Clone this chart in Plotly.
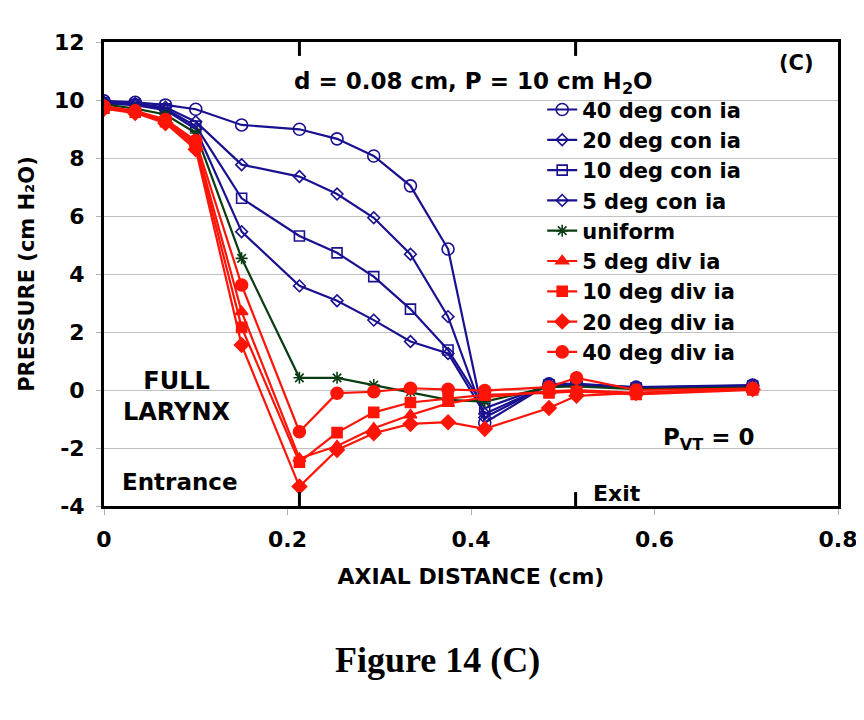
import plotly.graph_objects as go

# ---- data ----
axial_cm = [0, 0.034, 0.067, 0.1, 0.15, 0.213, 0.254, 0.294, 0.334, 0.375, 0.415, 0.485, 0.515, 0.58, 0.707]

con40 = [9.97, 9.92, 9.83, 9.68, 9.14, 8.99, 8.66, 8.07, 7.04, 4.86, -1.13, 0.21, 0.21, 0.10, 0.17]
con20 = [9.92, 9.88, 9.75, 9.25, 7.77, 7.36, 6.76, 5.94, 4.68, 2.53, -0.95, 0.20, 0.20, 0.08, 0.15]
con10 = [9.90, 9.85, 9.70, 9.10, 6.61, 5.31, 4.73, 3.91, 2.79, 1.38, -0.63, 0.18, 0.18, 0.07, 0.14]
con5 = [9.88, 9.82, 9.65, 9.00, 5.46, 3.59, 3.08, 2.41, 1.67, 1.26, -0.82, 0.18, 0.18, 0.06, 0.13]
uniform = [9.85, 9.70, 9.50, 8.86, 4.54, 0.42, 0.42, 0.17, -0.06, -0.34, -0.40, 0.10, 0.12, 0.03, 0.08]
div5 = [9.75, 9.60, 9.30, 8.50, 2.70, -2.36, -1.93, -1.32, -0.86, -0.46, -0.25, -0.05, 0.00, -0.10, 0.02]
div10 = [9.72, 9.58, 9.25, 8.40, 2.16, -2.49, -1.47, -0.77, -0.43, -0.30, -0.17, -0.10, -0.05, -0.15, 0.00]
div20 = [9.70, 9.55, 9.20, 8.30, 1.55, -3.33, -2.07, -1.49, -1.17, -1.11, -1.34, -0.62, -0.20, -0.10, 0.03]
div40 = [9.78, 9.63, 9.33, 8.60, 3.62, -1.44, -0.11, -0.06, 0.06, 0.02, -0.02, 0.10, 0.42, 0.00, 0.05]

series_names = ["40 deg con ia", "20 deg con ia", "10 deg con ia", "5 deg con ia", "uniform",
                "5 deg div ia", "10 deg div ia", "20 deg div ia", "40 deg div ia"]
series_values = [con40, con20, con10, con5, uniform, div5, div10, div20, div40]

y_tickvals = [-4, -2, 0, 2, 4, 6, 8, 10, 12]
y_ticktext = ["-4", "-2", "0", "2", "4", "6", "8", "10", "12"]
x_tickvals = [0, 0.2, 0.4, 0.6, 0.8]
x_ticktext = ["0", "0.2", "0.4", "0.6", "0.8"]

entrance_x = 0.213
exit_x = 0.514

# ---- styles ----
NAVY = "#1a1190"
GREEN = "#0b3d12"
RED = "#ff1408"
styles = [
    dict(color=NAVY, symbol="circle-open", size=12),
    dict(color=NAVY, symbol="diamond-open", size=9),
    dict(color=NAVY, symbol="square-open", size=10),
    dict(color=NAVY, symbol="diamond-open", size=9),
    dict(color=GREEN, symbol="asterisk-open", size=10),
    dict(color=RED, symbol="triangle-up", size=11),
    dict(color=RED, symbol="square", size=10),
    dict(color=RED, symbol="diamond", size=11),
    dict(color=RED, symbol="circle", size=12),
]

FONT = "DejaVu Sans"

fig = go.Figure()
for name, vals, st in zip(series_names, series_values, styles):
    fig.add_trace(go.Scatter(
        x=axial_cm, y=vals, name=name, mode="lines+markers",
        line=dict(color=st["color"], width=2.2),
        marker=dict(symbol=st["symbol"], size=st["size"], color=st["color"],
                    line=dict(color=st["color"], width=1.6)),
    ))

# page body adds an 8px offset; margins compensate so the plot area sits at x 104..838, y 42..506
fig.update_layout(
    width=864, height=720,
    paper_bgcolor="white", plot_bgcolor="white",
    margin=dict(l=96, r=34, t=34, b=222),
    font=dict(family=FONT, size=19, color="black", weight="bold"),
    legend=dict(x=0.597, y=0.898, xanchor="left", yanchor="top",
                bgcolor="rgba(0,0,0,0)", font=dict(size=21, family=FONT, weight="bold"),
                tracegroupgap=0, itemwidth=30),
    showlegend=True,
)

fig.update_xaxes(
    range=[0, 0.8], tickvals=x_tickvals, ticktext=x_ticktext, automargin=False,
    showline=True, linecolor="black", linewidth=3, mirror=True,
    showgrid=False, zeroline=False,
    ticks="outside", ticklen=6, tickcolor="#b0b0b0", tickwidth=1, ticklabelstandoff=6,
    tickfont=dict(size=22, family=FONT, weight="bold"),
    title=dict(text="AXIAL DISTANCE (cm)", font=dict(size=22, family=FONT, weight="bold"), standoff=18),
)
fig.update_yaxes(
    range=[-4, 12], tickvals=y_tickvals, ticktext=y_ticktext, automargin=False,
    showline=True, linecolor="black", linewidth=3, mirror=True,
    showgrid=True, gridcolor="#c0c0c0", gridwidth=1, zeroline=False,
    ticks="outside", ticklen=5, tickcolor="#b0b0b0", tickwidth=1, ticklabelstandoff=7,
    tickfont=dict(size=22, family=FONT, weight="bold"),
    title=dict(text="PRESSURE (cm H₂O)", font=dict(size=21, family=FONT, weight="bold"), standoff=14),
)

# entrance / exit tick marks on top and bottom frame
for xv in (entrance_x, exit_x):
    fig.add_shape(type="line", xref="x", yref="paper", x0=xv, x1=xv, y0=0, y1=0.03,
                  line=dict(color="black", width=3))
    fig.add_shape(type="line", xref="x", yref="paper", x0=xv, x1=xv, y0=0.97, y1=1,
                  line=dict(color="black", width=3))

def note(text, x, y, size=19, **kw):
    fig.add_annotation(text=text, x=x, y=y, xref="paper", yref="paper", showarrow=False,
                       xanchor="center", yanchor="middle",
                       font=dict(size=size, family=FONT, weight="bold", color="black"), **kw)

note("d = 0.08 cm, P = 10 cm H<sub>2</sub>O", 0.503, 0.912, size=23)
note("(C)", 0.944, 0.955, size=21)
note("FULL<br>LARYNX", 0.0995, 0.237, size=24)
note("Entrance", 0.1035, 0.052, size=23)
note("Exit", 0.699, 0.028, size=22)
note("P<sub>VT</sub> = 0", 0.824, 0.145, size=23)

fig.add_annotation(text="<b>Figure 14 (C)</b>", x=0.454, y=(506 - 660) / 464, xref="paper", yref="paper",
                   showarrow=False, xanchor="center", yanchor="middle",
                   font=dict(size=36, family="Liberation Serif", color="black"))

fig.write_html("out.html")
